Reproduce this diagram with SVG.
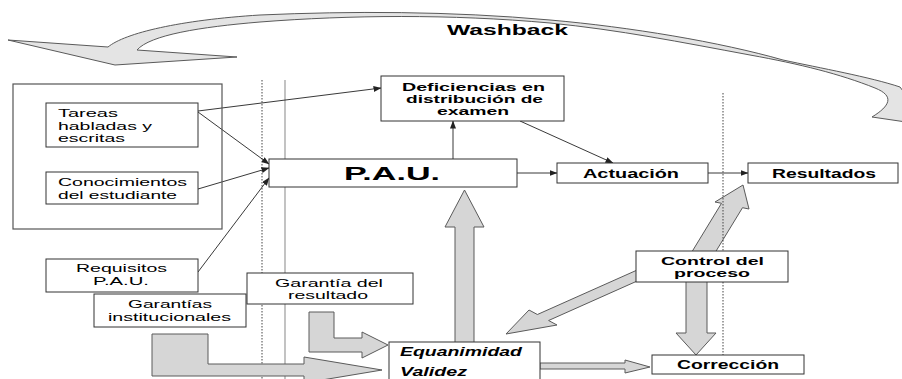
<svg xmlns="http://www.w3.org/2000/svg" width="902" height="379" viewBox="0 0 902 379">
<style>
.box{fill:#fff;stroke:#333;stroke-width:1}
.t{font-family:"Liberation Sans",Arial,sans-serif;fill:#000}
.b{font-weight:bold}
.bi{font-weight:bold;font-style:italic}
.blk{fill:#d6d6d6;stroke:#5a5a5a;stroke-width:1;stroke-linejoin:miter}
.conn{stroke:#222;stroke-width:0.9;fill:none;marker-end:url(#ah)}
.dot{stroke:#444;stroke-width:1;stroke-dasharray:1.5 1.5;fill:none}
.sol{stroke:#9a9a9a;stroke-width:1.2;fill:none}
</style>
<defs>
<marker id="ah" markerWidth="8" markerHeight="6" refX="7.5" refY="3" orient="auto" markerUnits="userSpaceOnUse"><path d="M0,0 L8,3 L0,6 Z" fill="#222"/></marker>
</defs>
<rect width="902" height="379" fill="#fff"/>

<g id="washback">
<path class="blk" d="M8,40 L108,47 C125,33 180,20 260,15 C350,11 450,11 550,20 C630,27 720,42 783,60 C820,68 870,77 900,87 L906,95 L906,122 L872,117 C890,106 895,96 875,88 C840,74 800,64 750,55 C680,42 620,30 550,23 C450,14 350,15 260,22 C200,27 150,35 137,50 L237,57 L115,65 Z" style="fill:#e4e4e4"/>
<text class="t b" x="447" y="35" font-size="14" textLength="121" lengthAdjust="spacingAndGlyphs">Washback</text>
</g>

<g id="guides-left">
<line class="dot" x1="262" y1="80" x2="262" y2="379"/>
<line class="sol" x1="285" y1="80" x2="285" y2="379"/>
</g>

<g id="block-arrows">
<polygon class="blk" points="455,343 455,227 445,227 464.5,190 484,227 474,227 474,343"/>
<polygon class="blk" points="540,363 625,363 625,360 650,367 625,373 625,369 540,369"/>
<polygon class="blk" points="686,280 707,280 707,333 716,333 696,355 676,333 686,333"/>
<polygon class="blk" points="506,334 529,310 537.4,314.5 639.7,268.9 650.9,274.9 548.6,320.5 557,325"/>
<polygon class="blk" points="743,185 749,209 742.5,207.7 706,267.6 685,263.2 721.5,203.3 715,202"/>
<polygon class="blk" points="309,312 334,312 334,338 362,338 362,332 388,345 362,358 362,352 309,352"/>
<polygon class="blk" points="152,334 208,334 208,364 304,364 304,357 382,370 304,383 304,376 152,376"/>
</g>

<g id="guide-right">
<line class="dot" x1="723" y1="93" x2="723" y2="355"/>
</g>

<g id="connectors">
<line class="conn" x1="198" y1="111" x2="381" y2="88"/>
<line class="conn" x1="198" y1="112" x2="269" y2="164"/>
<line class="conn" x1="198" y1="189" x2="269" y2="168"/>
<line class="conn" x1="198" y1="272" x2="269" y2="178"/>
<line class="conn" x1="453" y1="159" x2="453" y2="121"/>
<line class="conn" x1="520" y1="121" x2="613" y2="163"/>
<line class="conn" x1="517" y1="173" x2="557" y2="173"/>
<line class="conn" x1="708" y1="173" x2="748" y2="173"/>
</g>

<g id="outer-box">
<rect x="13" y="84" width="209" height="145" fill="none" stroke="#555" stroke-width="1.2"/>
</g>

<g id="tareas">
<rect class="box" x="46" y="103" width="152" height="44"/>
<text class="t" font-size="11.5"><tspan x="58" y="117" textLength="60" lengthAdjust="spacingAndGlyphs">Tareas</tspan><tspan x="58" y="129.5" textLength="94" lengthAdjust="spacingAndGlyphs">habladas y</tspan><tspan x="58" y="142" textLength="67" lengthAdjust="spacingAndGlyphs">escritas</tspan></text>
</g>

<g id="conocimientos">
<rect class="box" x="46" y="172" width="152" height="32"/>
<text class="t" font-size="11.5"><tspan x="58" y="186" textLength="129" lengthAdjust="spacingAndGlyphs">Conocimientos</tspan><tspan x="58" y="198.5" textLength="119" lengthAdjust="spacingAndGlyphs">del estudiante</tspan></text>
</g>

<g id="requisitos">
<rect class="box" x="46" y="259" width="152" height="33"/>
<text class="t" font-size="11"><tspan x="76" y="272" textLength="91" lengthAdjust="spacingAndGlyphs">Requisitos</tspan><tspan x="93" y="285" textLength="56" lengthAdjust="spacingAndGlyphs">P.A.U.</tspan></text>
</g>

<g id="garantias-inst">
<rect class="box" x="94" y="294" width="152" height="33"/>
<text class="t" font-size="11"><tspan x="128" y="308" textLength="84" lengthAdjust="spacingAndGlyphs">Garantías</tspan><tspan x="108" y="320.5" textLength="123" lengthAdjust="spacingAndGlyphs">institucionales</tspan></text>
</g>

<g id="garantia-resultado">
<rect class="box" x="247" y="273" width="166" height="31"/>
<text class="t" font-size="11"><tspan x="275" y="286.5" textLength="108" lengthAdjust="spacingAndGlyphs">Garantía del</tspan><tspan x="288" y="299" textLength="80" lengthAdjust="spacingAndGlyphs">resultado</tspan></text>
</g>

<g id="pau">
<rect class="box" x="269" y="159" width="248" height="28"/>
<text class="t b" x="344" y="180" font-size="18.5" textLength="96" lengthAdjust="spacingAndGlyphs">P.A.U.</text>
</g>

<g id="deficiencias">
<rect class="box" x="381" y="76" width="183" height="45"/>
<text class="t b" font-size="11.5"><tspan x="402" y="91" textLength="143" lengthAdjust="spacingAndGlyphs">Deficiencias en</tspan><tspan x="406" y="103" textLength="137" lengthAdjust="spacingAndGlyphs">distribución de</tspan><tspan x="437" y="115" textLength="72" lengthAdjust="spacingAndGlyphs">examen</tspan></text>
</g>

<g id="actuacion">
<rect class="box" x="557" y="163" width="151" height="20"/>
<text class="t b" x="583" y="178" font-size="13" textLength="96" lengthAdjust="spacingAndGlyphs">Actuación</text>
</g>

<g id="resultados">
<rect class="box" x="748" y="163" width="150" height="20"/>
<text class="t b" x="772" y="178" font-size="13" textLength="104" lengthAdjust="spacingAndGlyphs">Resultados</text>
</g>

<g id="control">
<rect class="box" x="636" y="251" width="152" height="31"/>
<text class="t b" font-size="11.5"><tspan x="661" y="265" textLength="103" lengthAdjust="spacingAndGlyphs">Control del</tspan><tspan x="674" y="277" textLength="76" lengthAdjust="spacingAndGlyphs">proceso</tspan></text>
</g>

<g id="correccion">
<rect class="box" x="652" y="355" width="152" height="19"/>
<text class="t b" x="677" y="369" font-size="12.5" textLength="102" lengthAdjust="spacingAndGlyphs">Corrección</text>
</g>

<g id="equanimidad">
<rect class="box" x="389" y="342" width="151" height="45"/>
<text class="t bi" font-size="12"><tspan x="400" y="356" textLength="122" lengthAdjust="spacingAndGlyphs">Equanimidad</tspan><tspan x="400" y="376" textLength="67" lengthAdjust="spacingAndGlyphs">Validez</tspan></text>
</g>
</svg>
